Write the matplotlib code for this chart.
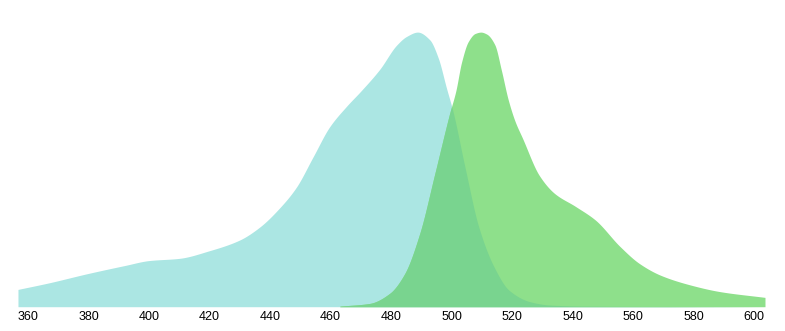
import numpy as np
import matplotlib
matplotlib.use("Agg")
import matplotlib.pyplot as plt

# excitation spectrum (normalised)
ex_wl = [356.7, 367, 379.5, 392, 400, 410, 420, 430, 436.6, 443.2, 448.7, 454.2,
         459.7, 465.3, 470, 476.3, 481.8, 485.1, 488.8, 492.8, 495.6,
         498.3, 500.5, 504.4, 509, 514, 519, 526, 532.5, 545, 603.6]
ex_val = [0.063, 0.087, 0.12, 0.15, 0.168, 0.176, 0.204, 0.243, 0.29, 0.36, 0.435,
          0.545, 0.655, 0.73, 0.785, 0.865, 0.952, 0.984, 1.0, 0.972,
          0.906, 0.797, 0.71, 0.51, 0.29, 0.146, 0.06, 0.018, 0.006, 0.002, 0.0]

# emission spectrum (normalised)
em_wl = [463, 473, 479.6, 484.5, 489.5, 494.5, 499.4, 501.4, 503.3, 505.5, 507.8,
         509.7, 511.6, 514.3, 516.5, 518.7, 521, 523.4, 529, 534, 541, 547.5, 555.7,
         562, 569, 579, 588.7, 603.6]
em_val = [0.002, 0.012, 0.049, 0.12, 0.267, 0.486, 0.705, 0.785, 0.89, 0.965, 0.995,
          1.0, 0.993, 0.954, 0.86, 0.755, 0.675, 0.615, 0.478, 0.413, 0.365, 0.316,
          0.219, 0.158, 0.115, 0.079, 0.055, 0.034]

tick_vals = list(range(360, 601, 20))

EX_COLOR = "#abe6e3"
EM_COLOR = "#8ee08b"
OVERLAP_COLOR = "#79d48f"


def pchip(x, y, xs):
    # monotone cubic hermite (Fritsch-Carlson), keeps the traced shape without overshoot
    x = np.asarray(x, float)
    y = np.asarray(y, float)
    h = np.diff(x)
    d = np.diff(y) / h
    m = np.zeros_like(y)
    for i in range(1, len(y) - 1):
        if d[i - 1] * d[i] > 0:
            w1 = 2 * h[i] + h[i - 1]
            w2 = h[i] + 2 * h[i - 1]
            m[i] = (w1 + w2) / (w1 / d[i - 1] + w2 / d[i])
    m[0], m[-1] = d[0], d[-1]
    idx = np.clip(np.searchsorted(x, xs) - 1, 0, len(h) - 1)
    t = (xs - x[idx]) / h[idx]
    h00 = 2 * t**3 - 3 * t**2 + 1
    h10 = t**3 - 2 * t**2 + t
    h01 = -2 * t**3 + 3 * t**2
    h11 = t**3 - t**2
    return (h00 * y[idx] + h10 * h[idx] * m[idx]
            + h01 * y[idx + 1] + h11 * h[idx] * m[idx + 1])


grid = np.linspace(356.7, 603.6, 1500)
ex = np.clip(pchip(ex_wl, ex_val, grid), 0, None)
em_mask = grid >= em_wl[0]
em = np.where(em_mask, np.clip(pchip(em_wl, em_val, grid), 0, None), 0)

fig = plt.figure(figsize=(7.85, 3.31), dpi=100)
ax = fig.add_axes([0.0229, 0.0734, 0.9516, 0.8296])

ax.fill_between(grid, 0, ex, color=EX_COLOR, linewidth=0)
ax.fill_between(grid, 0, em, where=em_mask, color=EM_COLOR, linewidth=0)
ax.fill_between(grid, 0, np.minimum(ex, em), where=em_mask,
                color=OVERLAP_COLOR, linewidth=0)

ax.set_xlim(356.7, 603.6)
ax.set_ylim(0, 1.0)
ax.set_xticks(tick_vals)
ax.set_xticklabels([str(t) for t in tick_vals], fontsize=9, family="Liberation Sans")
ax.tick_params(axis="x", length=0, pad=3)
ax.set_yticks([])
for s in ax.spines.values():
    s.set_visible(False)

plt.savefig("out.png", dpi=100)
